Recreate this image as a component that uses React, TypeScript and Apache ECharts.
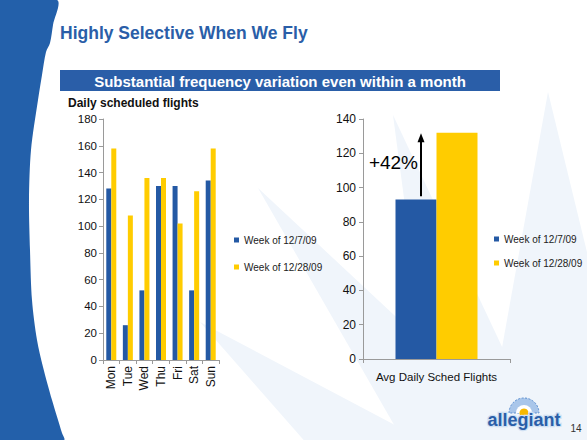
import React, { useEffect, useRef } from "react";
import * as echarts from "echarts";

const days = ["Mon", "Tue", "Wed", "Thu", "Fri", "Sat", "Sun"];
const week1207 = [128, 26, 52, 130, 130, 52, 134];
const week1228 = [158, 108, 136, 136, 102, 126, 158];
const avgCategory = ["Avg Daily Sched Flights"];
const avg1207 = [93];
const avg1228 = [132];
const seriesNames = ["Week of 12/7/09", "Week of 12/28/09"];
const leftTicks = { min: 0, max: 180, interval: 20 };
const rightTicks = { min: 0, max: 140, interval: 20 };
const arrowFrom = 95;
const arrowTo = 130;
const changeLabel = "+42%";

const BLUE = "#2459a4";
const YELLOW = "#ffcc00";
const FONT = "Liberation Sans, Arial, sans-serif";
const PALE = "#f0f5fb";

export default function App() {
  const ref = useRef<HTMLDivElement>(null);
  useEffect(() => {
    if (!ref.current) return;
    const chart = echarts.init(ref.current, undefined, { renderer: "svg" });

    const bg: any[] = [
      { type: "polygon", z: -10, silent: true, shape: { points: [[548, 92], [480, 470], [640, 470]] }, style: { fill: PALE } },
      { type: "polygon", z: -10, silent: true, shape: { points: [[393, 115], [440, 470], [560, 470]] }, style: { fill: PALE } },
      { type: "polygon", z: -10, silent: true, shape: { points: [[258, 188], [560, 470], [420, 470]] }, style: { fill: PALE } },
      { type: "polygon", z: -10, silent: true, shape: { points: [[200, 322], [480, 470], [330, 470]] }, style: { fill: PALE } },
      {
        type: "polygon", z: -9, silent: true,
        shape: {
          smooth: 0.3,
          points: [[0, 0], [57, 0], [53, 25], [50, 43], [46, 52], [42, 75], [38, 100], [31, 150], [29, 200], [30, 250], [32, 300], [37, 340], [43, 367], [52, 400], [62, 433], [64, 440], [0, 440]],
        },
        style: { fill: "#2360aa" },
      },
      {
        type: "line", z: -8, silent: true, shape: { x1: 0, y1: 44.5, x2: 587, y2: 44.5 },
        style: {
          lineWidth: 2.5,
          stroke: new echarts.graphic.LinearGradient(0, 0, 1, 0, [
            { offset: 0, color: "#ffffff" },
            { offset: 0.1, color: "#f4f6f9" },
            { offset: 0.45, color: "#c9d3e0" },
            { offset: 1, color: "#2a5ea8" },
          ]),
        },
      },
      { type: "text", x: 60, y: 33, style: { text: "Highly Selective When We Fly", font: `bold 17.5px ${FONT}`, fill: "#2a5ea8", textVerticalAlign: "middle" } },
      { type: "rect", shape: { x: 60, y: 70, width: 440, height: 21 }, style: { fill: "#2a5ea8" } },
      { type: "text", x: 280, y: 81, style: { text: "Substantial frequency variation even within a month", font: `bold 15px ${FONT}`, fill: "#ffffff", textAlign: "center", textVerticalAlign: "middle" } },
      { type: "text", x: 68, y: 103, style: { text: "Daily scheduled flights", font: `bold 12px ${FONT}`, fill: "#111", textVerticalAlign: "middle" } },
      // logo
      { type: "sector", shape: { cx: 524, cy: 413, r: 15, r0: 0, startAngle: Math.PI, endAngle: 2 * Math.PI }, style: { fill: "#a9c6ea", stroke: "#5b8fd0", lineWidth: 1, lineDash: [2, 1.5] } },
      { type: "sector", shape: { cx: 524, cy: 413, r: 8, r0: 0, startAngle: Math.PI, endAngle: 2 * Math.PI }, style: { fill: "#ffffff" } },
      { type: "circle", shape: { cx: 524, cy: 413, r: 4.5 }, style: { fill: "#f6b800" } },
      { type: "text", x: 524, y: 420, style: { text: "allegiant", font: `bold 18px ${FONT}`, fill: "#2a5ea8", stroke: "#cfe0f3", lineWidth: 2.5, textAlign: "center", textVerticalAlign: "middle" } },
      { type: "text", x: 576, y: 428, style: { text: "14", font: `10px ${FONT}`, fill: "#333", textAlign: "center", textVerticalAlign: "middle" } },
    ];

    const axisLine = { show: true, lineStyle: { color: "#9a9a9a", width: 1 } };
    const axisTick = { show: true, length: 4, lineStyle: { color: "#9a9a9a" } };

    const option: any = {
      animation: false,
      backgroundColor: "#ffffff",
      textStyle: { fontFamily: FONT },
      grid: [
        { left: 103, top: 119, width: 116, height: 241 },
        { left: 363, top: 119, width: 147, height: 240 },
      ],
      xAxis: [
        {
          type: "category", gridIndex: 0, data: days,
          axisLine, axisTick,
          axisLabel: { rotate: 90, fontSize: 12, color: "#111", margin: 6, fontFamily: FONT },
        },
        {
          type: "category", gridIndex: 1, data: avgCategory,
          axisLine, axisTick,
          axisLabel: { fontSize: 11.5, color: "#111", margin: 12, fontFamily: FONT },
        },
      ],
      yAxis: [
        {
          type: "value", gridIndex: 0, ...leftTicks,
          axisLine, axisTick, splitLine: { show: false },
          axisLabel: { fontSize: 11.5, color: "#111", margin: 6, fontFamily: FONT },
        },
        {
          type: "value", gridIndex: 1, ...rightTicks,
          axisLine, axisTick, splitLine: { show: false },
          axisLabel: { fontSize: 12, color: "#111", margin: 7, fontFamily: FONT },
        },
      ],
      legend: [
        {
          data: seriesNames, orient: "vertical", left: 234, top: 235, padding: 0,
          itemWidth: 5, itemHeight: 5, itemGap: 17, icon: "rect", selectedMode: false,
          textStyle: { fontSize: 10, color: "#222", fontFamily: FONT },
        },
        {
          data: seriesNames, orient: "vertical", left: 494, top: 234, padding: 0,
          itemWidth: 5, itemHeight: 5, itemGap: 14, icon: "rect", selectedMode: false,
          textStyle: { fontSize: 10, color: "#222", fontFamily: FONT },
        },
      ],
      series: [
        { name: seriesNames[0], type: "bar", xAxisIndex: 0, yAxisIndex: 0, data: week1207, barWidth: 5, barGap: "0%", itemStyle: { color: BLUE } },
        { name: seriesNames[1], type: "bar", xAxisIndex: 0, yAxisIndex: 0, data: week1228, barWidth: 5, barGap: "0%", itemStyle: { color: YELLOW } },
        { name: seriesNames[0], type: "bar", xAxisIndex: 1, yAxisIndex: 1, data: avg1207, barWidth: 41, barGap: "0%", itemStyle: { color: BLUE } },
        { name: seriesNames[1], type: "bar", xAxisIndex: 1, yAxisIndex: 1, data: avg1228, barWidth: 41, barGap: "0%", itemStyle: { color: YELLOW } },
      ],
      graphic: bg,
    };
    chart.setOption(option);

    const pFrom = chart.convertToPixel({ gridIndex: 1 } as any, [0, arrowFrom]) as number[];
    const pTo = chart.convertToPixel({ gridIndex: 1 } as any, [0, arrowTo]) as number[];
    if (pFrom && pTo) {
      const ax = pFrom[0] - 15.5;
      const annotations: any[] = [
        { type: "line", z: 100, shape: { x1: ax, y1: pFrom[1], x2: ax, y2: pTo[1] + 4 }, style: { stroke: "#000", lineWidth: 2 } },
        { type: "polygon", z: 100, shape: { points: [[ax, pTo[1] - 3], [ax - 3.5, pTo[1] + 6], [ax + 3.5, pTo[1] + 6]] }, style: { fill: "#000" } },
        { type: "text", z: 100, x: ax - 3, y: (pFrom[1] + pTo[1]) / 2 - 4, style: { text: changeLabel, font: `19px ${FONT}`, fill: "#000", textAlign: "right", textVerticalAlign: "middle" } },
      ];
      chart.setOption({ graphic: [...bg, ...annotations] });
    }

    return () => chart.dispose();
  }, []);
  return <div ref={ref} style={{ position: "fixed", left: 0, top: 0, width: 587, height: 440 }} />;
}
